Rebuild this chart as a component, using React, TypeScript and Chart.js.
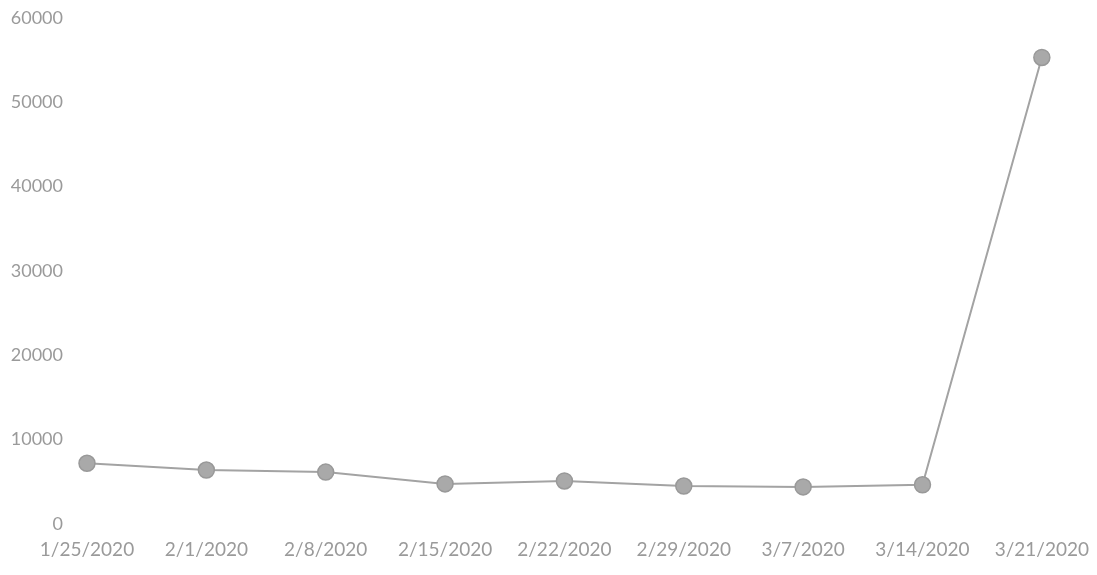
import React, { useEffect, useRef } from "react";
import { Chart, registerables } from "chart.js";

Chart.register(...registerables);

const categories = ["1/25/2020", "2/1/2020", "2/8/2020", "2/15/2020", "2/22/2020", "2/29/2020", "3/7/2020", "3/14/2020", "3/21/2020"];
const seriesValues = [7200, 6400, 6150, 4750, 5100, 4500, 4400, 4650, 55300];
const yMin = 0;
const yMax = 60000;
const yStep = 10000;

const SHIFT = 17;
const EXTRA_W = 6;

export default function App() {
  const ref = useRef<HTMLCanvasElement | null>(null);
  useEffect(() => {
    if (!ref.current) return;
    const chart = new Chart(ref.current, {
      type: "line",
      data: {
        labels: categories,
        datasets: [
          {
            data: seriesValues,
            borderColor: "#a3a3a3",
            borderWidth: 2,
            pointRadius: 8,
            pointBackgroundColor: "#a9a9a9",
            pointBorderColor: "#999999",
            pointBorderWidth: 1.5,
            tension: 0,
          },
        ],
      },
      options: {
        animation: false,
        responsive: false,
        maintainAspectRatio: false,
        layout: { padding: { top: 3, right: 49, left: 0, bottom: 0 } },
        plugins: { legend: { display: false }, tooltip: { enabled: false } },
        scales: {
          x: {
            offset: false,
            grid: { display: false, drawTicks: false },
            border: { display: false },
            ticks: {
              color: "#9a9a9a",
              font: { family: "Lato", size: 19 },
              maxRotation: 0,
              autoSkip: false,
              padding: 14,
            },
            afterFit: (s: any) => {
              s.height = 51;
            },
          },
          y: {
            min: yMin,
            max: yMax,
            grid: { display: false, drawTicks: false },
            border: { display: false },
            ticks: {
              stepSize: yStep,
              color: "#9a9a9a",
              font: { family: "Lato", size: 18 },
              padding: 24,
              callback: (v: any) => String(v),
            },
            afterFit: (s: any) => {
              s.width = 87;
            },
          },
        },
      },
    });
    return () => chart.destroy();
  }, []);
  return (
    <div style={{ position: "fixed", left: 0, top: 0, width: 1097, height: 575, background: "#fff", overflow: "hidden" }}>
      <canvas
        ref={ref}
        width={1097 + EXTRA_W}
        height={575 + SHIFT}
        style={{ position: "absolute", left: 0, top: -SHIFT, width: 1097 + EXTRA_W, height: 575 + SHIFT, filter: "blur(0.5px)" }}
      />
    </div>
  );
}
